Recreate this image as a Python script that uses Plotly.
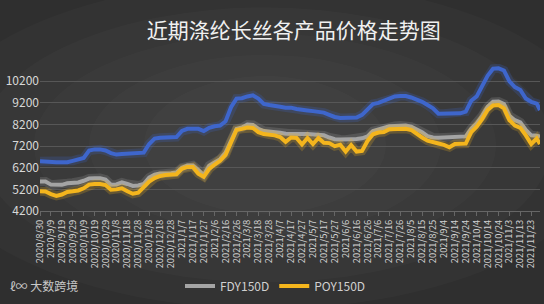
import datetime as dt
import plotly.graph_objects as go

start = dt.date(2020, 8, 30)
day_offsets = sorted(set(list(range(0, 460, 5)) + [458]))
dates = [start + dt.timedelta(days=d) for d in day_offsets]

dty = [6500, 6500, 6480, 6460, 6450, 6460, 6520, 6600, 6650, 7000, 7050, 7050, 7000, 6880, 6810, 6840,
       6850, 6850, 6850, 6900, 7300, 7550, 7590, 7600, 7600, 7620, 7900, 8000, 8010, 8000, 7900, 8050,
       8120, 8150, 8350, 9000, 9400, 9420, 9500, 9550, 9400, 9150, 9100, 9080, 9020, 8980, 8980, 8920,
       8870, 8850, 8820, 8800, 8750, 8650, 8550, 8500, 8500, 8500, 8520, 8650, 8900, 9150, 9200, 9300,
       9400, 9500, 9520, 9520, 9450, 9350, 9250, 9100, 8950, 8700, 8700, 8720, 8720, 8720, 8800, 9300,
       9500, 10000, 10450, 10780, 10800, 10700, 10200, 9930, 9800, 9400, 9250, 9170, 8870]
fdy = [5560, 5560, 5420, 5410, 5410, 5480, 5510, 5520, 5600, 5700, 5720, 5720, 5650, 5420, 5430, 5520,
       5450, 5360, 5380, 5450, 5750, 5880, 5930, 5930, 5950, 5980, 6200, 6310, 6310, 6100, 5860, 6300,
       6450, 6600, 6900, 7500, 8000, 8060, 8200, 8180, 8000, 7900, 7880, 7830, 7820, 7770, 7780, 7770,
       7760, 7760, 7750, 7740, 7700, 7600, 7520, 7510, 7500, 7520, 7530, 7560, 7650, 7900, 7970, 8050,
       8120, 8130, 8150, 8150, 8100, 7980, 7850, 7660, 7600, 7590, 7600, 7590, 7600, 7620, 7650, 8000,
       8250, 8600, 9020, 9250, 9260, 9150, 8600, 8400, 8300, 7950, 7700, 7680, 7650]
poy = [5110, 5100, 4980, 4900, 4960, 5080, 5110, 5150, 5250, 5420, 5450, 5450, 5400, 5180, 5200, 5250,
       5110, 5000, 5050, 5300, 5560, 5720, 5820, 5860, 5870, 5900, 6150, 6240, 6240, 5930, 5780, 6150,
       6350, 6520, 6800, 7400, 7950, 8000, 8060, 8040, 7850, 7760, 7740, 7700, 7620, 7400, 7600, 7580,
       7280, 7580, 7300, 7580, 7360, 7340, 7200, 7260, 6950, 7250, 6950, 6980, 7440, 7750, 7830, 7850,
       7980, 8000, 8010, 8000, 7950, 7760, 7600, 7450, 7370, 7320, 7260, 7150, 7300, 7300, 7320, 7850,
       8100, 8450, 8870, 9080, 9100, 8950, 8400, 8150, 8050, 7700, 7300, 7550, 7300]

tick_dates = [start + dt.timedelta(days=10 * i) for i in range(46)]
tick_text = [f"{d.year}/{d.month}/{d.day}" for d in tick_dates]
y_ticks = [4200, 5200, 6200, 7200, 8200, 9200, 10200]
y_text = [str(v) for v in y_ticks]

series = [
    ("DTY150D", dty, "#3e66cc", False),
    ("FDY150D", fdy, "#a4a4a4", True),
    ("POY150D", poy, "#f4b51d", True),
]

fig = go.Figure()
for name, vals, color, show in series:
    fig.add_trace(go.Scatter(x=dates, y=vals, mode="lines", showlegend=False, hoverinfo="skip",
                             line=dict(color=color, width=9), opacity=0.22))
    fig.add_trace(go.Scatter(x=dates, y=vals, mode="lines", name=name, showlegend=show,
                             line=dict(color=color, width=4)))

# soft radial lightening of the background
shapes = []
for rx, ry in [(0.62, 0.62), (0.52, 0.52), (0.42, 0.42), (0.32, 0.34), (0.22, 0.26)]:
    shapes.append(dict(type="circle", xref="paper", yref="paper", layer="below",
                       x0=0.45 - rx * 1.1, x1=0.45 + rx * 1.1, y0=0.45 - ry * 1.8, y1=0.45 + ry * 1.8,
                       fillcolor="rgba(255,255,255,0.018)", line=dict(width=0)))

fig.update_layout(
    width=544, height=304,
    margin=dict(l=40, r=4, t=64, b=89),
    paper_bgcolor="#2f2f2f",
    plot_bgcolor="rgba(0,0,0,0)",
    shapes=shapes,
    font=dict(family="Noto Sans CJK SC, Noto Sans, sans-serif", color="#d8d8d8"),
    title=dict(text="近期涤纶长丝各产品价格走势图", x=0.54, xanchor="center", y=0.9, yanchor="middle",
               font=dict(size=21, color="#f0f0f0", family="Noto Sans CJK SC")),
    legend=dict(orientation="h", x=0.28, y=-0.51, xanchor="left", yanchor="middle",
                font=dict(size=12, color="#d0d0d0"), bgcolor="rgba(0,0,0,0)",
                itemwidth=30),
    xaxis=dict(type="date",
               range=[start - dt.timedelta(hours=12), start + dt.timedelta(days=458, hours=12)],
               tickvals=tick_dates, ticktext=tick_text,
               tickangle=-90, tickfont=dict(size=9.3, color="#d0d0d0"),
               showgrid=False, showline=True, linecolor="#666", ticks="outside",
               tickcolor="#666", ticklen=4),
    yaxis=dict(range=[4200, 11000], tickvals=y_ticks, ticktext=y_text,
               tickfont=dict(size=12, color="#d8d8d8"),
               gridcolor="#575757", gridwidth=1, zeroline=False, showline=False, ticks=""),
)
fig.add_annotation(text="ℓ∞ 大数跨境", xref="paper", yref="paper", x=-0.064, y=-0.51,
                   xanchor="left", yanchor="middle", showarrow=False,
                   font=dict(size=12, color="#c8c8c8"))
fig.write_html("out.html")
